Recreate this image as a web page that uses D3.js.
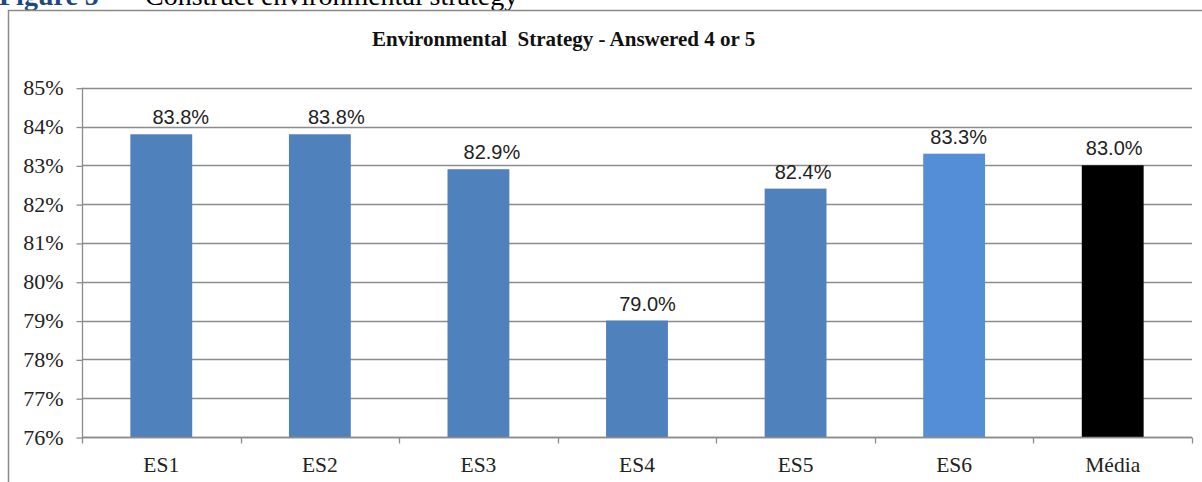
<!DOCTYPE html>
<html>
<head>
<meta charset="utf-8">
<script src="https://cdn.jsdelivr.net/npm/d3@7"></script>
<style>
  html, body { margin: 0; padding: 0; background: #fff; }
  svg { display: block; }
  text { white-space: pre; }
</style>
</head>
<body>
<script>
// Share of respondents answering 4 or 5 for each environmental strategy item
const categories = ["ES1", "ES2", "ES3", "ES4", "ES5", "ES6", "Média"];
const values = [83.8, 83.8, 82.9, 79.0, 82.4, 83.3, 83.0];
const valueLabels = ["83.8%", "83.8%", "82.9%", "79.0%", "82.4%", "83.3%", "83.0%"];
const barColors = ["#4f81bd", "#4f81bd", "#4f81bd", "#4f81bd", "#4f81bd", "#548ed6", "#000000"];
const yTicks = [76, 77, 78, 79, 80, 81, 82, 83, 84, 85];
const yTickLabels = ["76%", "77%", "78%", "79%", "80%", "81%", "82%", "83%", "84%", "85%"];

const W = 1202, H = 482;
const plot = { left: 82, right: 1192, top: 87.7, bottom: 437 };

const svg = d3.select("body").append("svg")
  .attr("width", W).attr("height", H);

// Figure caption (its upper half runs off the top edge)
const cap = svg.append("text")
  .attr("x", -1).attr("y", 5)
  .attr("font-family", "'Liberation Serif', 'Times New Roman', serif")
  .attr("font-size", 28);
cap.append("tspan").attr("font-weight", "bold").attr("fill", "#1f497d").text("Figure 5");
cap.append("tspan").attr("fill", "#000").text(" –");
cap.append("tspan").attr("x", 145).attr("fill", "#000").text("Construct environmental strategy");

// Chart frame
svg.append("rect")
  .attr("x", 8.5).attr("y", 10.5)
  .attr("width", W + 20).attr("height", H + 20)
  .attr("fill", "#fff")
  .attr("stroke", "#8a8a8a").attr("stroke-width", 1.5);

// Chart title
svg.append("text")
  .attr("x", 372).attr("y", 45.5)
  .attr("font-family", "'Liberation Serif', 'Times New Roman', serif")
  .attr("font-weight", "bold")
  .attr("font-size", 21)
  .attr("fill", "#111")
  .text("Environmental  Strategy - Answered 4 or 5");

const x = d3.scaleBand()
  .domain(categories)
  .range([plot.left, plot.right])
  .paddingInner(0.61)
  .paddingOuter(0.305);

// Data labels sit on a slightly narrower band layout
const xLabel = d3.scaleBand()
  .domain(categories)
  .range([103, plot.right]);

const y = d3.scaleLinear()
  .domain([76, 85])
  .range([plot.bottom, plot.top]);

// Horizontal gridlines
svg.append("g")
  .selectAll("line")
  .data(yTicks)
  .join("line")
  .attr("x1", plot.left).attr("x2", plot.right)
  .attr("y1", d => Math.round(y(d)) + 0.5).attr("y2", d => Math.round(y(d)) + 0.5)
  .attr("stroke", "#8c8c8c").attr("stroke-width", 1.3);

// Bars
const data = categories.map((c, i) => ({ c, v: values[i], label: valueLabels[i], color: barColors[i] }));
svg.append("g")
  .selectAll("rect")
  .data(data)
  .join("rect")
  .attr("x", d => x(d.c))
  .attr("width", x.bandwidth())
  .attr("y", d => y(d.v))
  .attr("height", d => y(76) - y(d.v))
  .attr("fill", d => d.color);

// Value labels
svg.append("g")
  .selectAll("text")
  .data(data)
  .join("text")
  .attr("x", d => xLabel(d.c) + xLabel.bandwidth() / 2)
  .attr("y", d => y(d.v) - 10)
  .attr("text-anchor", "middle")
  .attr("font-family", "'Liberation Sans', Arial, sans-serif")
  .attr("font-size", 20)
  .attr("fill", "#222")
  .text(d => d.label);

// Y axis
const yAxis = d3.axisLeft(y)
  .tickValues(yTicks)
  .tickFormat((d, i) => yTickLabels[i])
  .tickSize(6)
  .tickPadding(13);
const gy = svg.append("g")
  .attr("transform", `translate(${plot.left + 0.5},0)`)
  .call(yAxis);
gy.select(".domain").attr("stroke", "#8c8c8c").attr("stroke-width", 1.3)
  .attr("d", `M0,${plot.top}V${plot.bottom}`);
gy.selectAll(".tick line").attr("stroke", "#8c8c8c").attr("stroke-width", 1.3)
  .attr("transform", "translate(0,0.5)");
gy.selectAll(".tick text")
  .attr("font-family", "'Liberation Serif', 'Times New Roman', serif")
  .attr("font-size", 22)
  .attr("fill", "#222");

// X axis with ticks at category boundaries
const xAxis = d3.axisBottom(x).tickSize(0).tickPadding(19);
const gx = svg.append("g")
  .attr("transform", `translate(0,${Math.round(plot.bottom) + 0.5})`)
  .call(xAxis);
gx.select(".domain").attr("stroke", "#8c8c8c").attr("stroke-width", 1.3)
  .attr("d", `M${plot.left},0H${plot.right}`);
gx.selectAll(".tick text")
  .attr("font-family", "'Liberation Serif', 'Times New Roman', serif")
  .attr("font-size", 21.5)
  .attr("fill", "#222");

const boundaries = d3.range(categories.length + 1)
  .map(i => plot.left + i * (plot.right - plot.left) / categories.length);
gx.append("g")
  .selectAll("line")
  .data(boundaries)
  .join("line")
  .attr("x1", d => Math.round(d) + 0.5).attr("x2", d => Math.round(d) + 0.5)
  .attr("y1", 0).attr("y2", 6)
  .attr("stroke", "#8c8c8c").attr("stroke-width", 1.3);
</script>
</body>
</html>
